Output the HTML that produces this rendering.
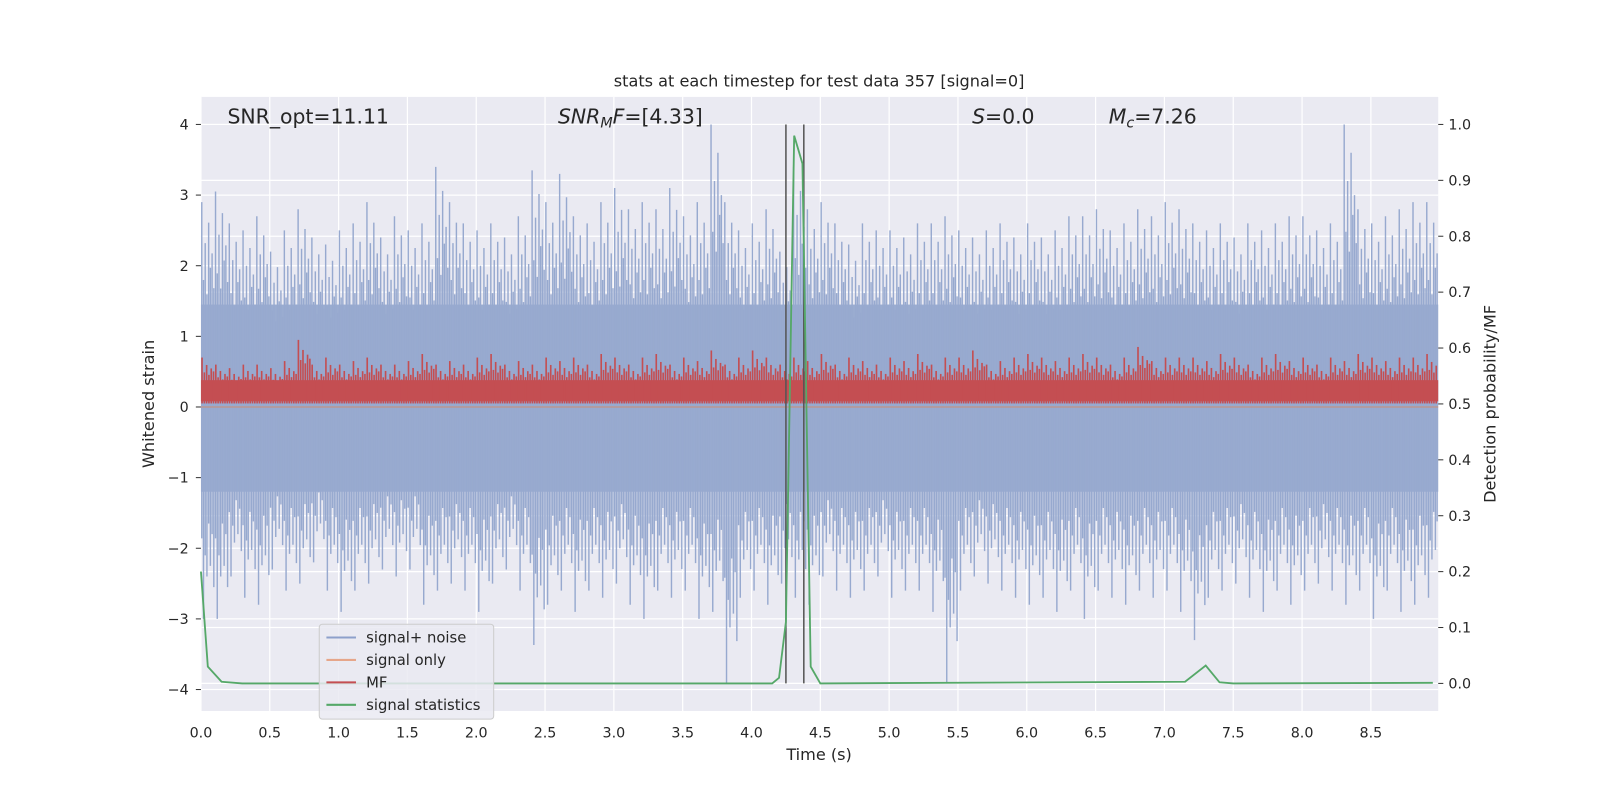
<!DOCTYPE html>
<html><head><meta charset="utf-8"><style>
html,body{margin:0;padding:0;background:#fff;overflow:hidden;width:1600px;height:800px;}
svg{display:block;position:absolute;left:0;top:0;}
svg text{font-family:"DejaVu Sans","Liberation Sans",sans-serif;fill:#262626;}
</style></head><body>
<svg id="chart" width="1600" height="800" viewBox="0 0 1568.6 784.3" xmlns="http://www.w3.org/2000/svg"></svg>
<script>
// 0.1 s bins from 0.0 to 8.9
const binStart = 0.0, binWidth = 0.1;
const noiseUpper = [2.9,3.05,2.6,2.5,2.7,2.2,2.5,2.8,2.4,2.3,2.5,2.6,2.9,2.4,2.7,2.5,2.6,3.4,2.9,2.6,2.5,2.6,2.4,2.7,3.35,2.9,3.3,2.7,2.6,2.9,3.1,2.8,2.9,2.8,3.1,2.7,2.9,4.0,2.9,2.5,2.6,2.8,2.2,3.4,2.8,2.9,2.6,2.3,2.6,2.5,2.5,2.4,2.6,2.6,2.7,2.5,2.4,2.5,2.6,2.4,2.6,2.4,2.5,2.7,2.7,2.8,2.5,2.6,2.8,2.7,2.9,2.8,2.6,2.5,2.6,2.4,2.6,2.5,2.6,2.7,2.7,2.5,2.6,4.0,2.8,2.6,2.7,2.8,2.9,2.9];
const noiseLower = [-3.0,-3.0,-2.4,-2.7,-2.8,-2.3,-2.6,-2.5,-2.2,-2.6,-2.9,-2.6,-2.5,-2.3,-2.4,-2.3,-2.8,-2.6,-2.5,-2.6,-2.9,-2.5,-2.3,-2.6,-3.37,-2.8,-2.6,-2.9,-2.6,-2.7,-2.5,-2.8,-3.0,-2.6,-2.7,-2.6,-3.0,-2.9,-3.9,-2.7,-2.6,-2.8,-2.5,-2.7,-2.8,-2.4,-2.6,-2.7,-2.6,-2.4,-2.7,-2.6,-2.6,-2.9,-3.9,-2.6,-2.4,-2.5,-2.6,-2.7,-2.8,-2.7,-2.9,-2.6,-3.0,-2.6,-2.7,-2.8,-2.6,-2.7,-2.6,-2.9,-3.3,-2.7,-2.6,-2.5,-2.7,-2.9,-2.6,-2.8,-2.6,-2.5,-2.6,-2.8,-2.6,-3.0,-2.6,-2.9,-2.8,-2.7];
const mfUpper = [0.7,0.6,0.55,0.6,0.6,0.55,0.65,0.95,0.6,0.7,0.6,0.65,0.7,0.6,0.6,0.65,0.75,0.6,0.65,0.6,0.7,0.75,0.6,0.65,0.6,0.7,0.65,0.7,0.6,0.75,0.7,0.6,0.7,0.75,0.6,0.7,0.65,0.8,0.6,0.7,0.8,0.7,0.6,0.7,0.65,0.75,0.6,0.7,0.65,0.6,0.7,0.65,0.75,0.6,0.7,0.7,0.8,0.6,0.65,0.7,0.75,0.7,0.65,0.7,0.75,0.7,0.6,0.7,0.85,0.65,0.7,0.7,0.7,0.65,0.75,0.7,0.6,0.7,0.75,0.65,0.7,0.6,0.7,0.65,0.75,0.7,0.65,0.7,0.7,0.75];
const probT = [0,0.05,0.15,0.3,4.15,4.2,4.25,4.31,4.37,4.43,4.5,7.15,7.3,7.4,7.5,8.95];
const probV = [0.2,0.03,0.003,0,0,0.01,0.11,0.98,0.93,0.03,0,0.003,0.032,0.002,0,0.001];
const markerTimes = [4.25,4.38];
const xTicks = [0,0.5,1,1.5,2,2.5,3,3.5,4,4.5,5,5.5,6,6.5,7,7.5,8,8.5];
const yTicks = [-4,-3,-2,-1,0,1,2,3,4];
const y2Ticks = [0,0.1,0.2,0.3,0.4,0.5,0.6,0.7,0.8,0.9,1.0];

const L=197,R=1410,T=95,B=697;
const X=t=>197+t*134.94;
const Y=v=>399-v*69.25;
const Y2=p=>670-p*548;
const svg=document.getElementById('chart');
const NS='http://www.w3.org/2000/svg';
function mk(tag,attrs,parent){const e=document.createElementNS(NS,tag);for(const k in attrs)e.setAttribute(k,attrs[k]);(parent||svg).appendChild(e);return e;}

const bg=mk('rect',{x:L,y:T,width:R-L,height:B-T,fill:'#eaeaf2'});


const grid=mk('g',{stroke:'#fff','stroke-width':1.2});


xTicks.forEach(t=>mk('line',{x1:X(t),x2:X(t),y1:T,y2:B},grid));
yTicks.forEach(v=>mk('line',{x1:L,x2:R,y1:Y(v),y2:Y(v)},grid));
y2Ticks.forEach(v=>mk('line',{x1:L,x2:R,y1:Y2(v),y2:Y2(v)},grid));

const fu=[1,0.62,0.8,0.55,0.9,0.68,0.75,0.58];
const fl=[0.62,1,0.7,0.8,0.55,0.75,0.6,0.85];
const noise=mk('g',{});


mk('rect',{x:L,y:Y(1.45),width:R-L,height:Y(-1.2)-Y(1.45),fill:'#9aacd0'},noise);
noiseUpper.forEach((v,i)=>{
  const t0=binStart+i*binWidth;
  for(let k=0;k<8;k++){
    const t=t0+k*binWidth/8+0.006;
    if(t>8.99)continue;
    mk('line',{x1:X(t),x2:X(t),y1:Y(0),y2:Y(v*fu[k]),stroke:'#97a9cf','stroke-width':1.4},noise);
    mk('line',{x1:X(t),x2:X(t),y1:Y(0),y2:Y(noiseLower[i]*fl[k]),stroke:'#97a9cf','stroke-width':1.4},noise);
  }
});
const mf=mk('g',{});


mk('rect',{x:L,y:Y(0.38),width:R-L,height:Y(0.08)-Y(0.38),fill:'#c44e52'},mf);
mfUpper.forEach((v,i)=>{
  for(let k=0;k<6;k++){
    const t=binStart+i*binWidth+k*binWidth/6+0.008;
    if(t>8.99)continue;
    mk('line',{x1:X(t),x2:X(t),y1:Y(0.05),y2:Y(v*[1,0.7,0.85,0.65,0.78,0.72][k]),stroke:'#c44e52','stroke-width':1.6},mf);
  }
});
mk('line',{x1:L,x2:R,y1:Y(0),y2:Y(0),stroke:'#dd8452','stroke-width':1.2,opacity:0.6});

markerTimes.forEach(t=>{
  const l=mk('line',{x1:X(t),x2:X(t),y1:Y(4),y2:Y2(0),stroke:'#555','stroke-width':1.5});
  
  
});
const pts=probT.map((t,i)=>X(t)+','+Y2(probV[i])).join(' ');
const pl=mk('polyline',{points:pts,fill:'none',stroke:'#55a868','stroke-width':1.8});



xTicks.forEach(t=>{const e=mk('text',{x:X(t),y:723,'font-size':14,'text-anchor':'middle'});e.textContent=t.toFixed(1);

});
yTicks.forEach(v=>{mk('line',{x1:L-5,x2:L,y1:Y(v),y2:Y(v),stroke:'#333'});const e=mk('text',{x:185,y:Y(v)+5,'font-size':14,'text-anchor':'end'});e.textContent=v<0?'−'+(-v):String(v);

});
y2Ticks.forEach(v=>{mk('line',{x1:R,x2:R+5,y1:Y2(v),y2:Y2(v),stroke:'#333'});const e=mk('text',{x:1420,y:Y2(v)+5,'font-size':14});e.textContent=v.toFixed(1);

});
</script>
<svg width="1600" height="800" viewBox="0 0 1568.6 784.3">
<text x="803" y="85" font-size="15.8" text-anchor="middle">stats at each timestep for test data 357 [signal=0]</text>
<text x="803" y="745" font-size="15.8" text-anchor="middle">Time (s)</text>
<text transform="translate(151,396) rotate(-90)" font-size="15.8" text-anchor="middle">Whitened strain</text>
<text transform="translate(1466,396) rotate(-90)" font-size="15.8" text-anchor="middle">Detection probability/MF</text>
<g font-size="20">
<text x="223" y="121">SNR_opt=11.11</text>
<text x="547" y="121"><tspan font-style="italic">SNR</tspan><tspan font-style="italic" font-size="14" dy="4">M</tspan><tspan font-style="italic" dy="-4">F</tspan>=[4.33]</text>
<text x="953" y="121"><tspan font-style="italic">S</tspan>=0.0</text>
<text x="1087" y="121"><tspan font-style="italic">M</tspan><tspan font-style="italic" font-size="14" dy="4">c</tspan><tspan dy="-4">=7.26</tspan></text>
</g>
<g font-size="14.5">
<rect x="313" y="612" width="171" height="93" rx="3" fill="#eaeaf2" fill-opacity="0.85" stroke="#ccc"/>
<line x1="320" x2="349" y1="625" y2="625" stroke="#8da0cb" stroke-width="2"/><text x="359" y="630">signal+ noise</text>
<line x1="320" x2="349" y1="647" y2="647" stroke="#e6a68a" stroke-width="2"/><text x="359" y="652">signal only</text>
<line x1="320" x2="349" y1="669" y2="669" stroke="#c44e52" stroke-width="2"/><text x="359" y="674">MF</text>
<line x1="320" x2="349" y1="691" y2="691" stroke="#55a868" stroke-width="2"/><text x="359" y="696">signal statistics</text>
</g>
</svg>
</body></html>
